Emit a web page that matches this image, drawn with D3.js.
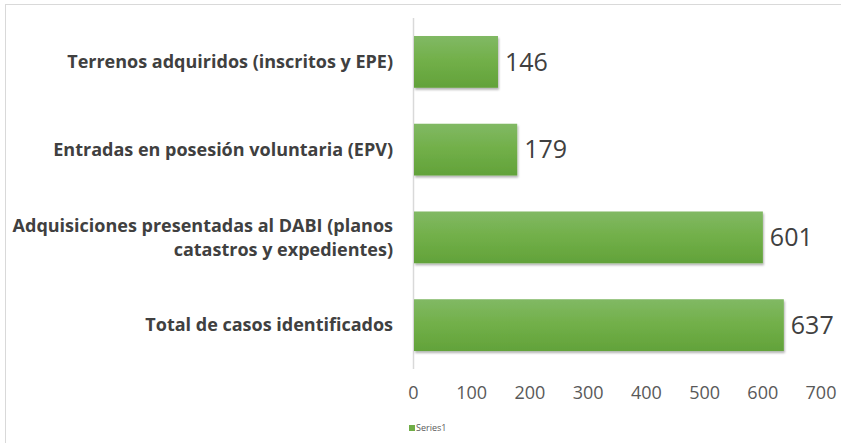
<!DOCTYPE html>
<html>
<head>
<meta charset="utf-8">
<script src="https://cdn.jsdelivr.net/npm/d3@7"></script>
<style>
  body { margin: 0; background: #fff; }
  text { font-family: "Open Sans", "Noto Sans", sans-serif; }
</style>
</head>
<body>
<div id="chart"></div>
<script>
var w = 841,
  h = 443;

// data, top bar first
var categories = [
  ['Terrenos adquiridos (inscritos y EPE)'],
  ['Entradas en posesión voluntaria (EPV)'],
  ['Adquisiciones presentadas al DABI (planos', 'catastros y expedientes)'],
  ['Total de casos identificados']
];
var values = [146, 179, 601, 637];
var ticks = [0, 100, 200, 300, 400, 500, 600, 700];
var seriesName = 'Series1';

var svg = d3.select('#chart').append('svg')
  .attr('width', w)
  .attr('height', h);

// chart border
svg.append('rect')
  .attr('x', 5.5).attr('y', 4.5)
  .attr('width', 850).attr('height', 460)
  .attr('fill', '#fff')
  .attr('stroke', '#d9d9d9');

var grad = svg.append('defs').append('linearGradient')
  .attr('id', 'barGrad')
  .attr('x1', 0).attr('y1', 0).attr('x2', 0).attr('y2', 1);
grad.append('stop').attr('offset', '0%').attr('stop-color', '#81b964');
grad.append('stop').attr('offset', '50%').attr('stop-color', '#71af48');
grad.append('stop').attr('offset', '100%').attr('stop-color', '#62a23a');

var shadow = svg.select('defs').append('filter')
  .attr('id', 'shadow')
  .attr('x', '-5%').attr('y', '-10%').attr('width', '115%').attr('height', '130%');
shadow.append('feDropShadow')
  .attr('dx', 1).attr('dy', 2).attr('stdDeviation', 1.2)
  .attr('flood-color', '#000').attr('flood-opacity', 0.3);

var x = d3.scaleLinear().domain([0, 700]).range([413, 820.5]);
var y = d3.scaleBand()
  .domain(d3.range(values.length))
  .range([18, 369])
  .paddingInner(0.41)
  .paddingOuter(0.205);

// vertical axis line
svg.append('line')
  .attr('x1', 413.5).attr('x2', 413.5)
  .attr('y1', 18).attr('y2', 369)
  .attr('stroke', '#d9d9d9')
  .attr('stroke-width', 1.5);

// bars
svg.selectAll('rect.bar')
  .data(values)
  .enter().append('rect')
  .attr('class', 'bar')
  .attr('x', x(0) + 1)
  .attr('y', function(d, i) { return y(i); })
  .attr('width', function(d) { return x(d) - x(0) - 1; })
  .attr('height', y.bandwidth())
  .attr('fill', 'url(#barGrad)')
  .attr('filter', 'url(#shadow)');

// value labels
svg.selectAll('text.val')
  .data(values)
  .enter().append('text')
  .attr('class', 'val')
  .attr('x', function(d) { return x(d) + 7; })
  .attr('y', function(d, i) { return y(i) + y.bandwidth() / 2; })
  .attr('dy', '0.35em')
  .attr('fill', '#404040')
  .style('font-size', '25px')
  .text(function(d) { return d; });

// category labels
var cat = svg.selectAll('text.cat')
  .data(categories)
  .enter().append('text')
  .attr('class', 'cat')
  .attr('text-anchor', 'end')
  .attr('fill', '#404040')
  .style('font-size', '18px')
  .style('font-weight', 'bold')
  .attr('y', function(d, i) { return y(i) + y.bandwidth() / 2; });

cat.selectAll('tspan')
  .data(function(d) { return d.map(function(s, j) { return { s: s, j: j, n: d.length }; }); })
  .enter().append('tspan')
  .attr('x', 393)
  .attr('dy', function(t) {
    return t.j === 0 ? (0.35 - (t.n - 1) * 0.67) + 'em' : '1.34em';
  })
  .text(function(t) { return t.s; });

// x axis
var xAxis = d3.axisBottom(x).tickValues(ticks).tickSize(0).tickPadding(0);
var gx = svg.append('g')
  .attr('transform', 'translate(0,386)')
  .call(xAxis);
gx.select('.domain').remove();
gx.selectAll('text')
  .attr('fill', '#595959')
  .style('font-size', '18px')
  .style('font-family', '"Open Sans", sans-serif');

// legend
svg.append('rect')
  .attr('x', 409).attr('y', 425)
  .attr('width', 6).attr('height', 6)
  .attr('fill', '#70ad47');
svg.append('text')
  .attr('x', 416).attr('y', 431)
  .attr('fill', '#595959')
  .style('font-size', '9px')
  .text(seriesName);
</script>
</body>
</html>
